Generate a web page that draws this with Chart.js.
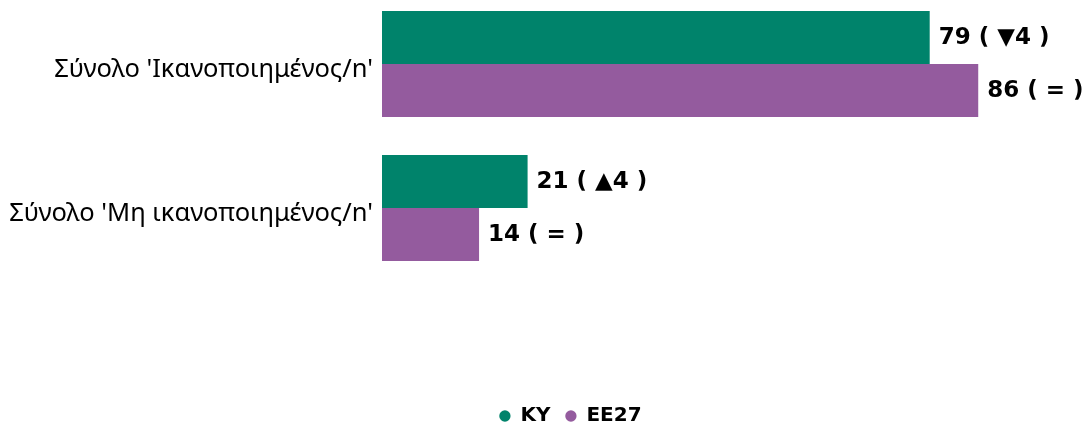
<!DOCTYPE html>
<html>
<head>
<meta charset="utf-8">
<script src="https://cdn.jsdelivr.net/npm/chart.js@4"></script>
<style>
  html, body { margin: 0; padding: 0; background: #fff; }
  #wrap { width: 1085px; height: 428px; }
</style>
</head>
<body>
<div id="wrap"><canvas id="myChart"></canvas></div>
<script>
const categories = [
  "Σύνολο 'Ικανοποιημένος/n'",
  "Σύνολο 'Μη ικανοποιημένος/n'"
];
const seriesNames = ['KY', 'EE27'];
const kyValues = [79, 21];
const ee27Values = [86, 14];
const kyChange = ['▼4', '▲4'];
const ee27Change = ['=', '='];

const green = '#00836b';
const purple = '#945b9e';

// value labels next to each bar, e.g. "79 ( ▼4 )"
const valueLabels = {
  id: 'valueLabels',
  afterLayout(chart) {
    // legend sits a little right of the canvas centre
    chart.legend.left += 28;
    chart.legend.right += 28;
  },
  afterDatasetsDraw(chart) {
    const ctx = chart.ctx;
    const changes = [kyChange, ee27Change];
    ctx.save();
    ctx.font = 'bold 23px "DejaVu Sans"';
    ctx.fillStyle = '#000';
    ctx.textBaseline = 'middle';
    ctx.textAlign = 'left';
    chart.data.datasets.forEach((ds, di) => {
      chart.getDatasetMeta(di).data.forEach((bar, i) => {
        const txt = ds.data[i] + ' ( ' + changes[di][i] + ' )';
        ctx.fillText(txt, bar.x + 9, bar.y + 1);
      });
    });
    ctx.restore();
  }
};

const data = {
  labels: categories,
  datasets: [{
    label: seriesNames[0],
    data: kyValues,
    backgroundColor: green,
    hoverBackgroundColor: green
  }, {
    label: seriesNames[1],
    data: ee27Values,
    backgroundColor: purple,
    hoverBackgroundColor: purple
  }]
};

const config = {
  type: 'bar',
  data: data,
  options: {
    indexAxis: 'y',
    responsive: true,
    maintainAspectRatio: false,
    animation: false,
    clip: false,
    categoryPercentage: 0.736,
    barPercentage: 1,
    layout: {
      padding: { top: 64, left: 0, right: 0, bottom: -8 }
    },
    scales: {
      x: {
        min: 0,
        max: 101.4,
        grid: { display: false },
        border: { display: false },
        ticks: { display: false },
        afterFit: (s) => { s.height = 183; }
      },
      y: {
        offset: false,
        grid: { display: false },
        border: { display: false },
        afterFit: (s) => { s.width = 382; },
        ticks: {
          color: '#000',
          padding: 1,
          labelOffset: 6,
          font: { family: 'Noto Sans', size: 25.5 }
        }
      }
    },
    plugins: {
      tooltip: { enabled: false },
      legend: {
        position: 'bottom',
        labels: {
          usePointStyle: true,
          pointStyle: 'circle',
          boxWidth: 11,
          boxHeight: 8,
          padding: 15,
          color: '#000',
          font: { family: 'DejaVu Sans', size: 20, weight: 'bold' }
        }
      }
    }
  },
  plugins: [valueLabels]
};

var myChart = new Chart(
  document.getElementById('myChart'),
  config
);
</script>
</body>
</html>
